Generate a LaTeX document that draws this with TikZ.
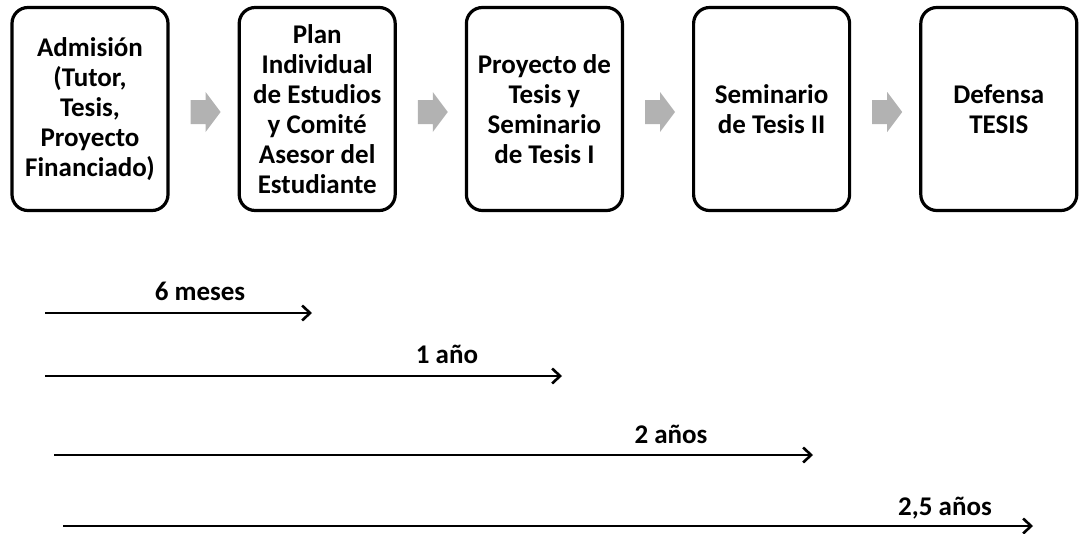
\documentclass[tikz,border=0pt]{standalone}
\usepackage{fontspec}
\setmainfont{Carlito}
\usetikzlibrary{positioning,arrows.meta,calc}
\definecolor{grisflecha}{RGB}{178,178,178}

\begin{document}
\begin{tikzpicture}[x=1pt, y=-1pt, node distance=68pt,
  every node/.style={font=\fontsize{27}{30}\selectfont\bfseries, align=center},
  etapa/.style={draw, line width=3.2pt, rounded corners=16pt, minimum width=156pt, minimum height=203pt, inner sep=0pt},
  plazo/.style={-{Straight Barb[length=8pt, width=15pt]}, line width=2.6pt},
  bloque/.pic={\fill[grisflecha] (-15,-12) -- (0,-12) -- (0,-20) -- (15,0) -- (0,20) -- (0,12) -- (-15,12) -- cycle;}]
\useasboundingbox (0,0) rectangle (1083,533);
\node[etapa] (adm) at (90,109) {Admisión\\(Tutor,\\Tesis,\\Proyecto\\Financiado)};
\node[etapa, right=of adm] (plan) {Plan\\Individual\\de Estudios\\y Comité\\Asesor del\\Estudiante};
\node[etapa, right=of plan] (proy) {Proyecto de\\Tesis y\\Seminario\\de Tesis I};
\node[etapa, right=of proy] (sem) {Seminario\\de Tesis II};
\node[etapa, right=of sem] (def) {Defensa\\TESIS};
\foreach \a/\b in {adm/plan, plan/proy, proy/sem, sem/def}
  \pic at ($(\a.east)!0.5!(\b.west)+(2,3)$) {bloque};
% plazos
\coordinate (i1) at (45,313);  \coordinate (t1) at (312,313);
\coordinate (i2) at (45,376);  \coordinate (t2) at (562,376);
\coordinate (i3) at (54,455);  \coordinate (t3) at (813,455);
\coordinate (i4) at (63,526);  \coordinate (t4) at (1033,526);
\node[anchor=base] (l1) at (200,300) {6 meses};
\node[anchor=base] (l2) at (447,363) {1 año};
\node[anchor=base] (l3) at (671,443) {2 años};
\node[anchor=base] (l4) at (945,515) {2,5 años};
\draw[plazo] (i1) -- (t1); \draw[plazo] (i2) -- (t2); \draw[plazo] (i3) -- (t3); \draw[plazo] (i4) -- (t4);
\end{tikzpicture}
\end{document}
